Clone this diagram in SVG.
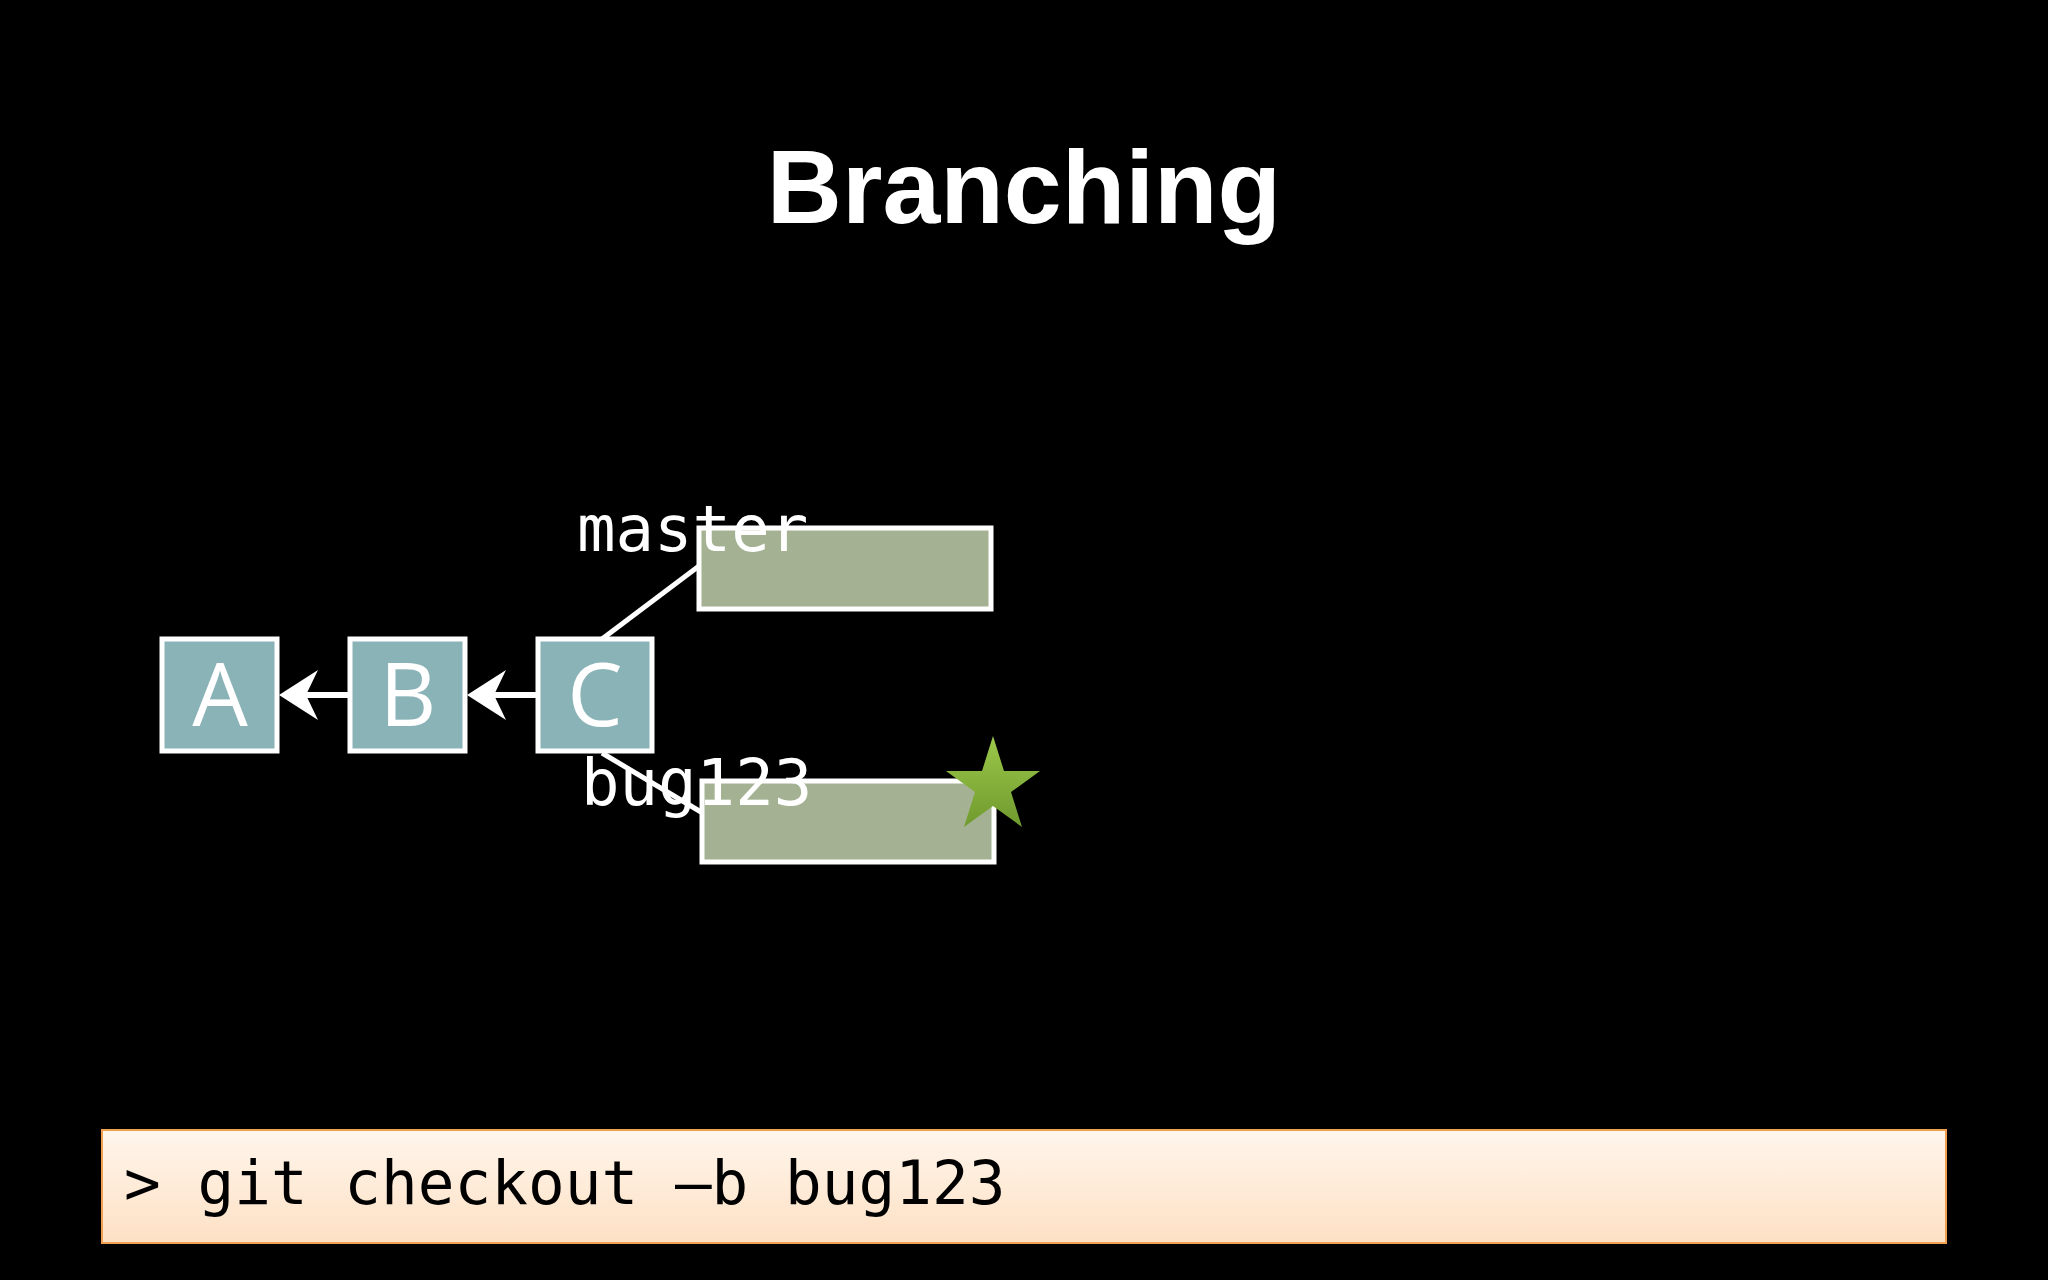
<svg xmlns="http://www.w3.org/2000/svg" width="2048" height="1280" viewBox="0 0 2048 1280">
<style>
.c{fill:#8ab3b8;stroke:#fff;stroke-width:5}
.b{fill:#a4b293;stroke:#fff;stroke-width:5}
.l{font-family:"Open Sans","DejaVu Sans",sans-serif;font-size:88px;fill:#fff;text-anchor:middle}
.m{font-family:"DejaVu Sans Mono","Liberation Mono",monospace;fill:#fff}
</style>
<defs>
<marker id="ah" viewBox="0 0 10 10" refX="1" refY="5" markerWidth="8" markerHeight="8" markerUnits="userSpaceOnUse" orient="auto">
<path d="M0,5 L10,0 L6,5 L10,10 Z" fill="#fff"/>
</marker>
<linearGradient id="cmd" x1="0" y1="0" x2="0" y2="1"><stop offset="0" stop-color="#fff6ec"/><stop offset="1" stop-color="#fde0c4"/></linearGradient>
<linearGradient id="st" x1="0" y1="0" x2="0" y2="1"><stop offset="0" stop-color="#9cc84a"/><stop offset="1" stop-color="#6f9a2e"/></linearGradient>
</defs>
<rect width="2048" height="1280" fill="#000"/>
<text x="1024" y="223" font-family="Liberation Sans,Arial,sans-serif" font-weight="bold" font-size="104" fill="#fff" text-anchor="middle">Branching</text>
<g id="connectors" stroke="#fff" stroke-width="6" fill="none">
<line x1="350" y1="695" x2="284" y2="695"/>
<path d="M279,695 L318,670 L306,695 L318,720 Z" fill="#fff" stroke="none"/>
<line x1="538" y1="695" x2="472" y2="695"/>
<path d="M467,695 L506,670 L494,695 L506,720 Z" fill="#fff" stroke="none"/>
<line x1="602" y1="639" x2="699" y2="566" stroke-width="5"/>
<line x1="602" y1="753" x2="701" y2="812" stroke-width="5"/>
</g>
<g id="A"><rect class="c" x="162" y="639" width="115" height="112"/><text class="l" x="220" y="726">A</text></g>
<g id="B"><rect class="c" x="350" y="639" width="115" height="112"/><text class="l" x="408" y="726">B</text></g>
<g id="C"><rect class="c" x="538" y="639" width="114" height="112"/><text class="l" x="595" y="726">C</text></g>
<g id="master"><rect class="b" x="699" y="528" width="292" height="81"/><text class="m" x="577" y="551" font-size="64">master</text></g>
<g id="bug123"><rect class="b" x="702" y="781" width="292" height="81"/><text class="m" x="581" y="805" font-size="64">bug123</text>
<polygon fill="url(#st)" points="993,736 1004,771 1040,771 1011,792 1022,827 993,806 964,827 975,792 946,771 982,771"/></g>
<g id="cmd"><rect x="102" y="1130" width="1844" height="113" fill="url(#cmd)" stroke="#f0a050" stroke-width="2"/>
<text x="124" y="1204" font-family="DejaVu Sans Mono,Liberation Mono,monospace" font-size="61" fill="#000">&gt; git checkout –b bug123</text></g>
</svg>
